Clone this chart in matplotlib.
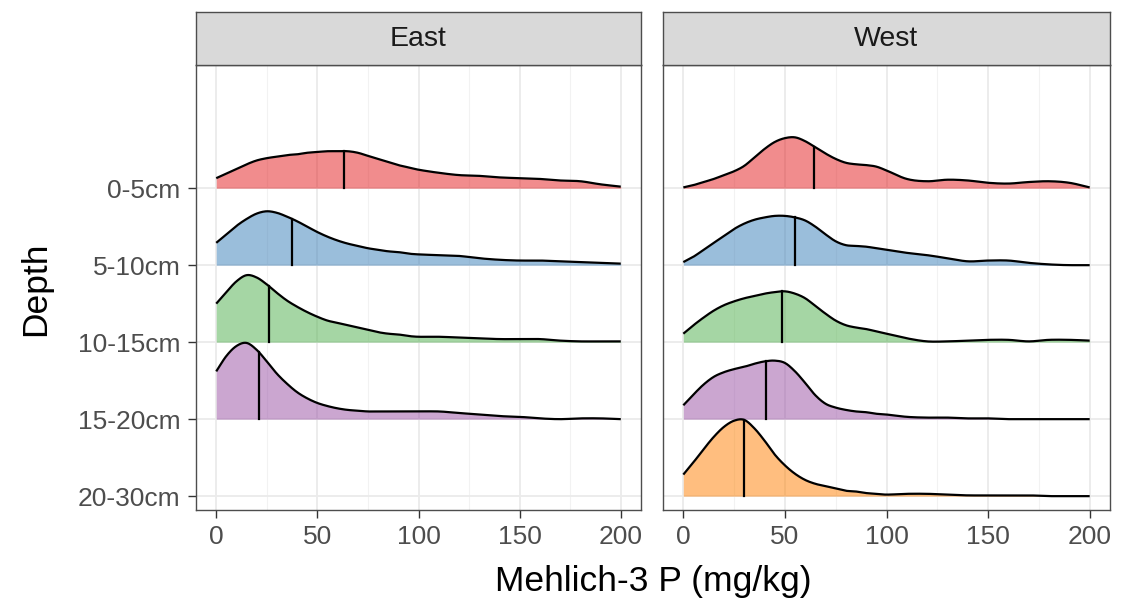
import numpy as np
import matplotlib.pyplot as plt
from matplotlib import cm

# Mehlich-3 P ridgeline densities, East vs West, by sampling depth
depths = ["0-5cm", "5-10cm", "10-15cm", "15-20cm", "20-30cm"]
regions = ["East", "West"]

# x positions where ridge heights were taken (mg/kg)
x_pts = [0, 5, 10, 15, 20, 25, 30, 35, 40, 45, 50, 55, 60, 65, 70, 75, 80, 85, 90, 95,
         100, 110, 120, 130, 140, 150, 160, 170, 180, 190, 200]

# ridge heights (in units of row spacing)
east_0_5 = [0.13, 0.19, 0.25, 0.31, 0.36, 0.39, 0.41, 0.43, 0.44, 0.46, 0.47, 0.48, 0.48, 0.48,
            0.46, 0.42, 0.38, 0.34, 0.30, 0.27, 0.24, 0.20, 0.17, 0.16, 0.14, 0.13, 0.12, 0.10,
            0.09, 0.05, 0.02]
east_5_10 = [0.29, 0.40, 0.51, 0.60, 0.67, 0.70, 0.68, 0.63, 0.57, 0.50, 0.43, 0.37, 0.32, 0.28,
             0.25, 0.22, 0.20, 0.18, 0.17, 0.15, 0.14, 0.13, 0.12, 0.09, 0.07, 0.06, 0.06, 0.05,
             0.04, 0.03, 0.02]
east_10_15 = [0.50, 0.65, 0.79, 0.87, 0.84, 0.75, 0.64, 0.54, 0.46, 0.39, 0.33, 0.28, 0.25, 0.22,
              0.19, 0.16, 0.13, 0.11, 0.10, 0.08, 0.07, 0.07, 0.06, 0.05, 0.04, 0.04, 0.04, 0.02,
              0.01, 0.01, 0.01]
east_15_20 = [0.62, 0.82, 0.95, 0.99, 0.90, 0.75, 0.59, 0.46, 0.35, 0.27, 0.21, 0.17, 0.14, 0.12,
              0.11, 0.10, 0.10, 0.10, 0.10, 0.10, 0.10, 0.10, 0.08, 0.06, 0.04, 0.03, 0.01, 0.00,
              0.01, 0.01, 0.00]

west_0_5 = [0.01, 0.04, 0.08, 0.12, 0.17, 0.22, 0.29, 0.40, 0.51, 0.60, 0.65, 0.66, 0.61, 0.53,
            0.45, 0.38, 0.33, 0.31, 0.30, 0.28, 0.23, 0.12, 0.09, 0.11, 0.10, 0.07, 0.06, 0.08,
            0.09, 0.07, 0.01]
west_5_10 = [0.04, 0.11, 0.20, 0.29, 0.38, 0.47, 0.54, 0.59, 0.62, 0.64, 0.64, 0.62, 0.58, 0.50,
             0.40, 0.31, 0.26, 0.25, 0.24, 0.22, 0.20, 0.16, 0.13, 0.09, 0.05, 0.06, 0.06, 0.03,
             0.01, 0.00, 0.00]
west_10_15 = [0.11, 0.22, 0.32, 0.41, 0.48, 0.53, 0.57, 0.60, 0.63, 0.65, 0.66, 0.63, 0.57, 0.47,
              0.37, 0.28, 0.22, 0.19, 0.17, 0.14, 0.11, 0.05, 0.01, 0.01, 0.02, 0.03, 0.03, 0.01,
              0.03, 0.03, 0.02]
west_15_20 = [0.18, 0.32, 0.45, 0.55, 0.61, 0.65, 0.68, 0.72, 0.75, 0.76, 0.73, 0.62, 0.47, 0.31,
              0.20, 0.15, 0.12, 0.10, 0.09, 0.07, 0.06, 0.03, 0.02, 0.02, 0.01, 0.01, 0.00, 0.00,
              0.00, 0.00, 0.00]
west_20_30 = [0.28, 0.44, 0.61, 0.77, 0.90, 0.98, 0.99, 0.88, 0.72, 0.54, 0.40, 0.29, 0.21, 0.16,
              0.13, 0.10, 0.07, 0.06, 0.04, 0.03, 0.02, 0.03, 0.03, 0.02, 0.01, 0.01, 0.01, 0.01,
              0.00, 0.00, 0.00]

# medians (mg/kg), drawn as quantile lines
east_medians = [63.4, 37.6, 25.9, 20.9]
west_medians = [64.4, 54.9, 48.5, 40.8, 29.9]

ridges = {
    "East": [east_0_5, east_5_10, east_10_15, east_15_20],
    "West": [west_0_5, west_5_10, west_10_15, west_15_20, west_20_30],
}
medians = {"East": east_medians, "West": west_medians}

colors = [cm.Set1(i) for i in [0, 1, 2, 3, 4]]


def smooth(xs, ys, xq):
    # cubic Hermite through the sampled heights, for a smooth outline
    xs = np.asarray(xs, float)
    ys = np.asarray(ys, float)
    m = np.empty_like(ys)
    m[1:-1] = (ys[2:] - ys[:-2]) / (xs[2:] - xs[:-2])
    m[0] = (ys[1] - ys[0]) / (xs[1] - xs[0])
    m[-1] = (ys[-1] - ys[-2]) / (xs[-1] - xs[-2])
    xq = np.atleast_1d(np.asarray(xq, float))
    i = np.clip(np.searchsorted(xs, xq) - 1, 0, len(xs) - 2)
    h = xs[i + 1] - xs[i]
    t = (xq - xs[i]) / h
    h00 = 2 * t**3 - 3 * t**2 + 1
    h10 = t**3 - 2 * t**2 + t
    h01 = -2 * t**3 + 3 * t**2
    h11 = t**3 - t**2
    out = h00 * ys[i] + h10 * h * m[i] + h01 * ys[i + 1] + h11 * h * m[i + 1]
    return np.clip(out, 0, None)


W, H = 1127, 606
fig = plt.figure(figsize=(W / 100, H / 100), dpi=100)
plt.rcParams['font.family'] = ['Liberation Sans', 'DejaVu Sans']

panel_px = {"East": (196, 641), "West": (663, 1110)}
top_px, bottom_px = 65, 510
strip_top = 12

xx = np.linspace(0, 200, 600)
ypos = {d: 5 - k for k, d in enumerate(depths)}

for region in regions:
    l, r = panel_px[region]
    ax = fig.add_axes([l / W, 1 - bottom_px / H, (r - l) / W, (bottom_px - top_px) / H])
    ax.set_xlim(-10, 210)
    ax.set_ylim(0.82, 6.6)

    # grid
    for gx in [25, 75, 125, 175]:
        ax.axvline(gx, color='#F2F2F2', lw=0.8, zorder=0)
    for gx in [0, 50, 100, 150, 200]:
        ax.axvline(gx, color='#EBEBEB', lw=1.3, zorder=0)
    for d in depths:
        ax.axhline(ypos[d], color='#EBEBEB', lw=1.3, zorder=0)

    for k, heights in enumerate(ridges[region]):
        base = ypos[depths[k]]
        yy = smooth(x_pts, heights, xx)
        z = 2 + k * 2
        ax.fill_between(xx, base, base + yy, color=colors[k], alpha=0.5, lw=0, zorder=z)
        ax.plot(xx, base + yy, color='black', lw=1.6, zorder=z + 1, solid_capstyle='butt')
        med = medians[region][k]
        hm = smooth(x_pts, heights, med)[0]
        ax.plot([med, med], [base, base + hm], color='black', lw=1.6, zorder=z + 1)

    ax.set_xticks([0, 50, 100, 150, 200])
    ax.set_xticklabels(['0', '50', '100', '150', '200'])
    ax.set_yticks([ypos[d] for d in depths])
    ax.tick_params(axis='both', labelsize=19, colors='#333333', labelcolor='#4D4D4D',
                   length=6, width=1.0, pad=5)
    if region == "East":
        ax.set_yticklabels(depths)
    else:
        ax.set_yticklabels([])
        ax.tick_params(axis='y', length=0)
    for s in ax.spines.values():
        s.set_color('#4D4D4D')
        s.set_linewidth(1.0)
    ax.set_facecolor('white')

    # facet strip
    sax = fig.add_axes([l / W, 1 - top_px / H, (r - l) / W, (top_px - strip_top) / H])
    sax.set_facecolor('#D9D9D9')
    sax.set_xticks([])
    sax.set_yticks([])
    for s in sax.spines.values():
        s.set_color('#4D4D4D')
        s.set_linewidth(1.0)
    sax.text(0.5, 0.5, region, ha='center', va='center', fontsize=20.5, color='#1A1A1A',
             transform=sax.transAxes)

fig.text(653 / W, 1 - 581 / H, 'Mehlich-3 P (mg/kg)', ha='center', va='center', fontsize=25.5)
fig.text(36 / W, 1 - 289 / H, 'Depth', ha='center', va='center', rotation=90, fontsize=25.5)

fig.savefig('out.png', dpi=100)
